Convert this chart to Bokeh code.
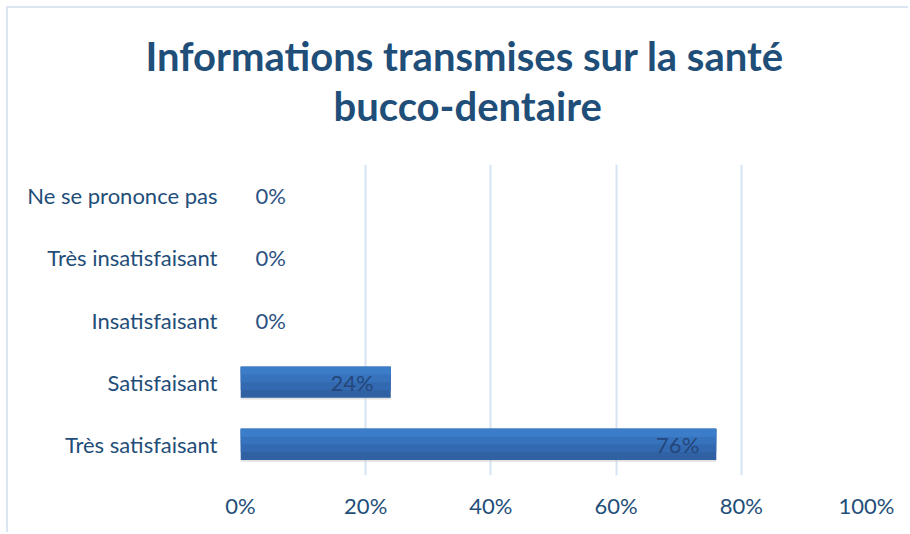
from bokeh.plotting import figure
from bokeh.models import FactorRange, Range1d, NumeralTickFormatter, ColumnDataSource, FixedTicker, Title
from bokeh.transform import dodge
from bokeh.core.properties import value
from bokeh.embed import file_html
from bokeh.resources import INLINE

categories = ["Ne se prononce pas", "Très insatisfaisant", "Insatisfaisant", "Satisfaisant", "Très satisfaisant"]
values = [0.0, 0.0, 0.0, 0.24, 0.76]
labels = ["0%", "0%", "0%", "24%", "76%"]
x_ticks = [0, 0.2, 0.4, 0.6, 0.8, 1.0]
title_lines = ["Informations transmises sur la santé", "bucco-dentaire"]

FONT = "Lato"
TEXT = "#1F4E79"

p = figure(width=902, height=526, output_backend="svg", toolbar_location=None,
           y_range=FactorRange(*list(reversed(categories))), x_range=Range1d(0, 1.0),
           min_border_left=232, min_border_right=44, min_border_top=156, min_border_bottom=59)
p.styles = {"margin-left": "6px", "margin-top": "6px",
            "border-left": "2px solid #DCE6F2", "border-top": "2px solid #DCE6F2"}
p.outline_line_color = None
p.background_fill_color = "white"

t2 = Title(text=title_lines[1], align="left", text_font=FONT, text_font_size="40px",
           text_font_style="bold", text_color="#1F4E79", standoff=70, offset=93)
t1 = Title(text=title_lines[0], align="left", text_font=FONT, text_font_size="40px",
           text_font_style="bold", text_color="#1F4E79", standoff=-70, offset=-95)
p.add_layout(t2, "above")
p.add_layout(t1, "above")

src = ColumnDataSource(dict(cat=categories, val=values, lab=labels,
                            pos=[v if v > 0 else 0 for v in values],
                            align=["right" if v > 0 else "left" for v in values],
                            xoff=[-17 if v > 0 else 15 for v in values],
                            col=["#24467A" if v > 0 else "#2E5283" for v in values]))

# shadow
p.hbar(y=dodge("cat", -0.03, range=p.y_range), right="val", left=0, height=0.5, source=src,
       fill_color="#BFBFBF", fill_alpha=0.45, line_color=None)
# gradient-like overlapping layers
layers = [("#2F61A3", 0.5), ("#3369B0", 0.375), ("#3773BD", 0.25), ("#3C7DCA", 0.125)]
for col, h in layers:
    p.hbar(y=dodge("cat", 0.25 - h / 2, range=p.y_range), right="val", left=0, height=h, source=src,
           fill_color=col, line_color=None)

p.text(x="pos", y="cat", text="lab", source=src, text_align="align", x_offset="xoff",
       text_baseline="middle", text_font=value(FONT), text_font_size="22px", text_color="col")

p.xaxis.ticker = FixedTicker(ticks=x_ticks)
p.xaxis.formatter = NumeralTickFormatter(format="0%")
p.xaxis.axis_line_color = None
p.xaxis.major_tick_line_color = None
p.xaxis.minor_tick_line_color = None
p.xaxis.major_label_text_font = FONT
p.xaxis.major_label_text_font_size = "22px"
p.xaxis.major_label_text_color = TEXT
p.xaxis.major_label_standoff = 10

p.yaxis.axis_line_color = None
p.yaxis.major_tick_line_color = None
p.yaxis.major_label_text_font = FONT
p.yaxis.major_label_text_font_size = "22px"
p.yaxis.major_label_text_color = TEXT
p.yaxis.major_label_standoff = 17

p.xgrid.ticker = FixedTicker(ticks=x_ticks)
p.xgrid.grid_line_color = "#D6E3F3"
p.xgrid.grid_line_width = 2
p.ygrid.grid_line_color = None

open("out.html", "w").write(file_html(p, INLINE))
